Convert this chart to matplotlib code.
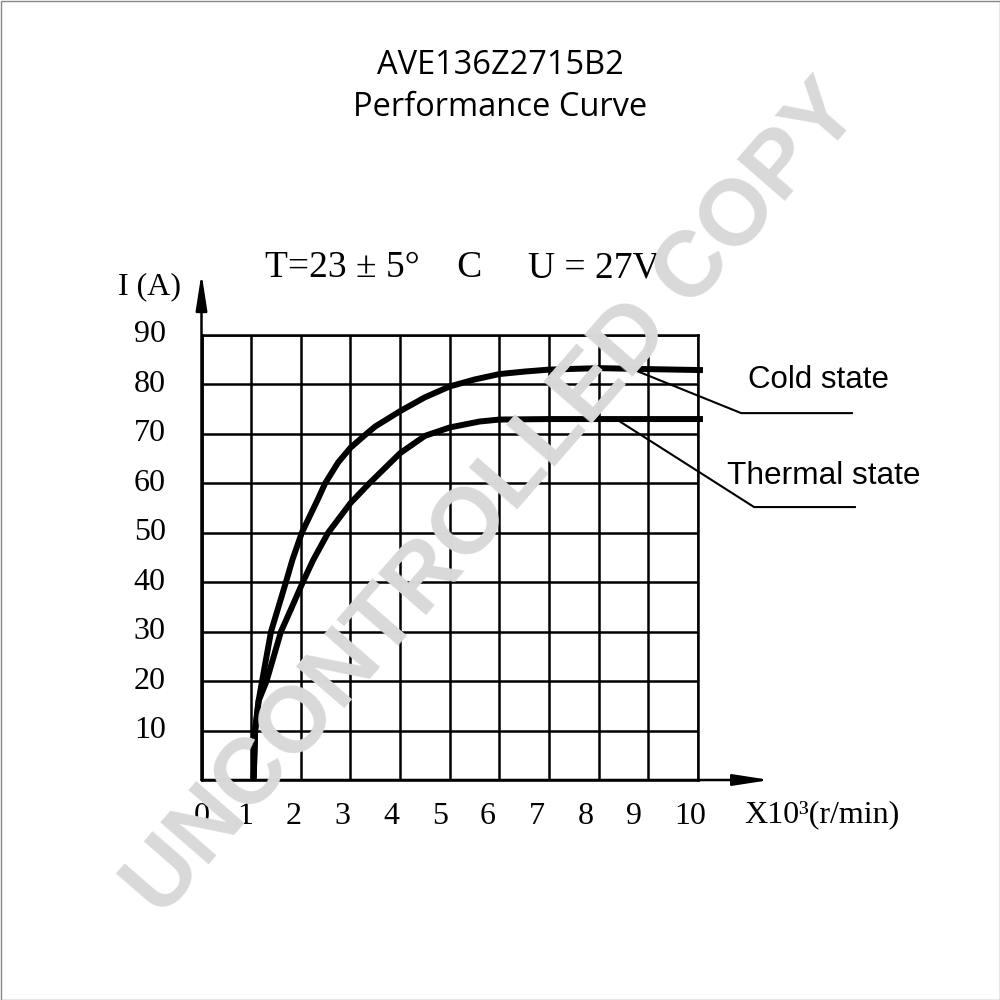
import matplotlib
matplotlib.use("Agg")
import matplotlib.pyplot as plt
from matplotlib.patches import Rectangle

# ---- data ----
x_ticks = [0, 1, 2, 3, 4, 5, 6, 7, 8, 9, 10]
y_ticks = [10, 20, 30, 40, 50, 60, 70, 80, 90]

cold_rpm = [1.05, 1.08, 1.15, 1.22, 1.40, 1.70, 1.83, 2.02, 2.34, 2.49, 2.75, 3.0, 3.32, 3.5,
            4.0, 4.5, 5.0, 5.5, 6.0, 6.5, 7.0, 8.0, 9.0, 10.1]
cold_amp = [0, 10, 16, 20, 30, 40, 44.5, 50, 56.7, 60, 64.2, 67.2, 70, 71.5,
            74.6, 77.4, 79.6, 81.0, 82.1, 82.6, 83.0, 83.3, 83.1, 82.9]

thermal_rpm = [1.05, 1.08, 1.15, 1.31, 1.60, 1.80, 2.04, 2.25, 2.55, 3.0, 3.38, 4.0,
               4.5, 5.0, 5.6, 6.0, 7.0, 8.0, 9.0, 10.1]
thermal_amp = [0, 10, 16, 20, 30, 34.5, 40, 44.5, 50, 56.0, 60, 66.1,
               69.6, 71.3, 72.5, 72.9, 73.0, 73.0, 73.0, 73.0]

title_lines = ["AVE136Z2715B2", "Performance Curve"]
condition_parts = ["T=23 ± 5°    C", "U = 27V"]
series_labels = ["Cold state", "Thermal state"]

fig = plt.figure(figsize=(10, 10), dpi=100)
fig.patch.set_facecolor("white")

ax = fig.add_axes([0.2015, 0.220, 0.4965, 0.445])
ax.set_xlim(0, 10)
ax.set_ylim(0, 90)
ax.set_xticks(x_ticks)
ax.set_yticks([0] + y_ticks)
ax.grid(True, color="black", linewidth=1.8)
for s in ax.spines.values():
    s.set_linewidth(1.8)
    s.set_color("black")
ax.tick_params(length=0)
ax.set_xticklabels([])
ax.set_yticklabels([])

serif = ["Liberation Serif", "DejaVu Serif"]

# tick labels
for v in y_ticks:
    ax.text(-1.04, v, str(v), ha="center", va="center", fontsize=23,
            family=serif, transform=ax.transData, clip_on=False)
x_label_pos = [0, 0.87, 1.86, 2.84, 3.82, 4.8, 5.77, 6.75, 7.73, 8.71, 9.85]
for v, p in zip(x_ticks, x_label_pos):
    ax.text(p, -7.3, str(v), ha="center", va="center", fontsize=23,
            family=serif, transform=ax.transData, clip_on=False)

# axis arrows
arrow_style = "-|>,head_length=1.1,head_width=0.17"
ax.annotate("", xy=(11.45, 0), xytext=(0, 0), xycoords="data",
            arrowprops=dict(arrowstyle=arrow_style, color="black", lw=1.8,
                            mutation_scale=20, shrinkA=0, shrinkB=0),
            annotation_clip=False)
ax.annotate("", xy=(0, 102.5), xytext=(0, 0), xycoords="data",
            arrowprops=dict(arrowstyle=arrow_style, color="black", lw=1.8,
                            mutation_scale=20, shrinkA=0, shrinkB=0),
            annotation_clip=False)

# curves
for xs, ys in [(cold_rpm, cold_amp), (thermal_rpm, thermal_amp)]:
    ax.plot(xs, ys, color="black", lw=4.3, solid_capstyle="butt",
            solid_joinstyle="round", clip_on=False, zorder=5)

# leader lines
ax.plot([8.7, 10.87, 13.1], [83, 74.2, 74.2], color="black", lw=1.5, clip_on=False)
ax.plot([8.38, 11.13, 13.16], [72.8, 55.2, 55.2], color="black", lw=1.5, clip_on=False)

fig.text(0.819, 0.620, series_labels[0], ha="center", va="center",
         fontsize=22.5, family="Liberation Sans")
fig.text(0.824, 0.524, series_labels[1], ha="center", va="center",
         fontsize=22.8, family="Liberation Sans")

# titles
fig.text(0.5, 0.935, title_lines[0], ha="center", va="center", fontsize=23.5, family="Open Sans")
fig.text(0.5, 0.892, title_lines[1], ha="center", va="center", fontsize=23.5, family="Open Sans")

fig.text(0.374, 0.732, condition_parts[0], ha="center", va="center", fontsize=27, family=serif)
fig.text(0.5935, 0.732, condition_parts[1], ha="center", va="center", fontsize=27, family=serif)
fig.text(0.150, 0.713, "I (A)", ha="center", va="center", fontsize=23, family=serif)
fig.text(0.822, 0.185, "X10³(r/min)", ha="center", va="center", fontsize=23, family=serif)

# watermark
fig.text(0.494, 0.50, "UNCONTROLLED COPY", ha="center", va="center",
         rotation=49, fontsize=67, fontweight="bold", family="Liberation Sans",
         color="#d9d9d9", zorder=20)

# border
fig.patches.append(Rectangle((0.0005, 0.0005), 0.999, 0.999, transform=fig.transFigure,
                             fill=False, edgecolor="#888888", lw=1))

fig.savefig("out.png", dpi=100)
